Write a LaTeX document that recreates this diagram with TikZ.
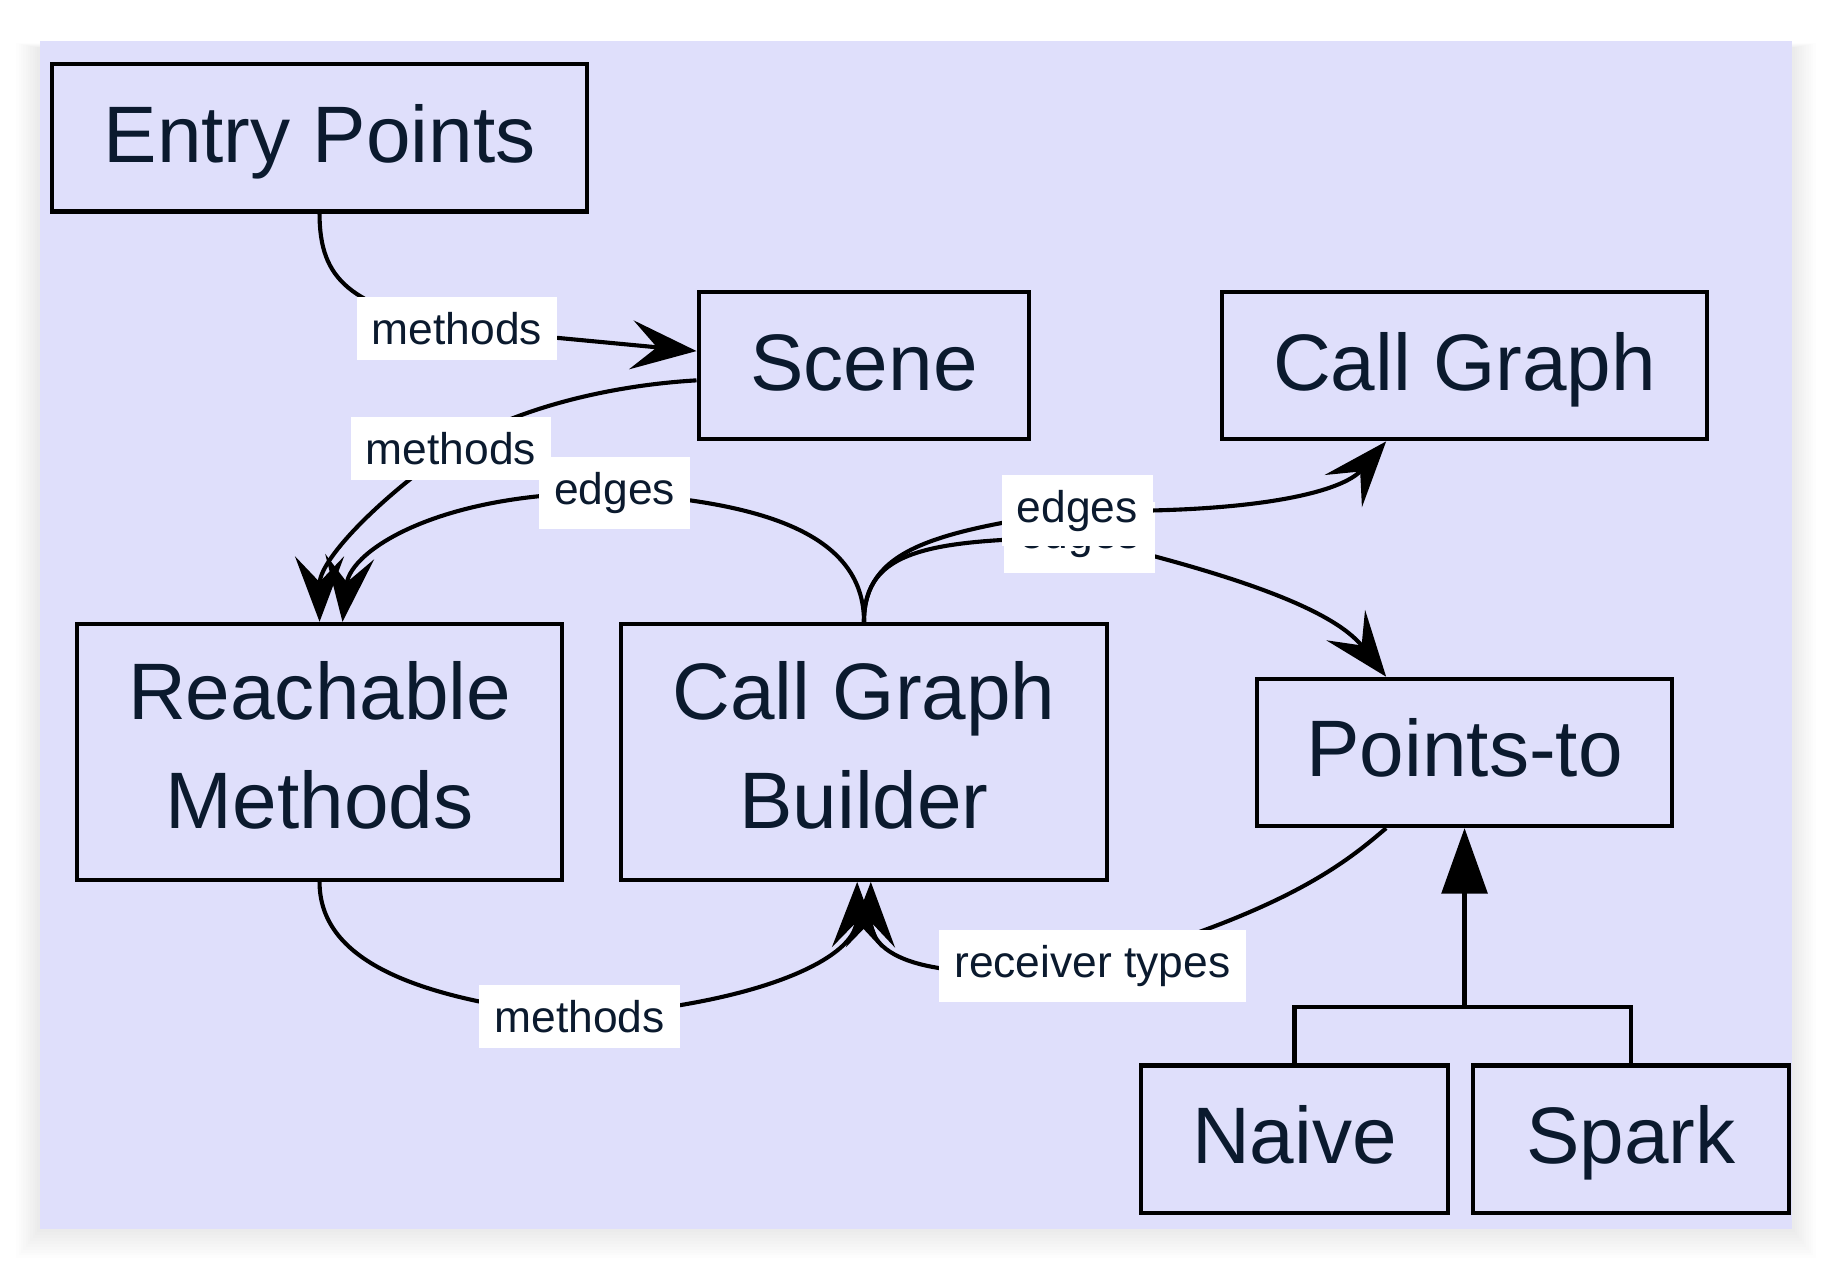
\documentclass[tikz,border=0pt]{standalone}
\usepackage{fontspec}
\setmainfont{Liberation Sans}
\usetikzlibrary{arrows.meta}
\definecolor{bgpanel}{RGB}{223,223,251}
\definecolor{ink}{HTML}{0B1A2E}

\begin{document}
\begin{tikzpicture}[x=0.01cm,y=-0.01cm,
  block/.style={draw=black,line width=1pt,inner sep=0pt,text=ink,align=center,
    font=\fontsize{19.5pt}{26.7pt}\selectfont},
  box/.style={block,minimum height=1.26cm,text height=14.3pt,text depth=2.4pt},
  tallbox/.style={block,minimum height=2.19cm,text depth=3.4pt},
  lbl/.style={fill=white,inner sep=0.13cm,text=ink,font=\fontsize{10.8pt}{13pt}\selectfont},
  flow/.style={line width=1pt,-{Stealth[length=5.6mm,width=4.2mm,inset=2.2mm]}},
  inherit/.style={line width=1pt,-{Triangle[length=5.6mm,width=3.9mm]}}]
  \fill[white] (0,0) rectangle (1568,1087);
  \foreach \s in {1,...,10}
    \fill[black,opacity=0.009] (34-2*\s,35-0.4*\s+6) rectangle (1534+2*\s,1052+2.5*\s);
  \fill[bgpanel] (34,35) rectangle (1534,1052);

  \node[box,minimum width=4.57cm] (entry) at (273.5,118) {Entry Points};
  \node[box,minimum width=2.83cm] (scene) at (739.5,313) {Scene};
  \node[box,minimum width=4.15cm] (callgraph) at (1253.5,313) {Call Graph};
  \node[tallbox,minimum width=4.15cm] (reach) at (273.5,643.5) {Reachable\\Methods};
  \node[tallbox,minimum width=4.15cm] (builder) at (739.5,643.5) {Call Graph\\Builder};
  \node[box,minimum width=3.55cm] (pointsto) at (1253.5,644) {Points-to};
  \node[box,minimum width=2.62cm] (naive) at (1108,975) {Naive};
  \node[box,minimum width=2.70cm] (spark) at (1396,975) {Spark};

  \draw[flow] (entry.south) .. controls (273.5,240) and (300,262) .. (391,281)
    node[lbl] (epmethods) {methods} -- (scene.175);
  \draw[flow] (scene.185) .. controls (520,330) and (440,350) .. (386,384)
    node[lbl] (scmethods) {methods} .. controls (320,430) and (273.5,480) .. (reach.north);
  \draw[flow] (builder.north) .. controls (739.5,460) and (660,430) .. (526,422)
    node[lbl] (rmedges) {edges} .. controls (380,420) and (300,470) .. (reach.80);
  \draw[flow] (builder.north) .. controls (739.5,470) and (795,462) .. (924,460)
    node[lbl] (ptedges) {edges} .. controls (1050,490) and (1140,520) .. (pointsto.136);
  \draw[flow] (builder.north) .. controls (739.5,470) and (800,455) .. (922,437)
    node[lbl] (cgedges) {edges} .. controls (1080,440) and (1150,420) .. (callgraph.224);
  \draw[flow] (reach.south) .. controls (273.5,820) and (350,855) .. (496,870)
    node[lbl] (rbmethods) {methods} .. controls (650,860) and (733,820) .. (builder.267);
  \draw[flow] (pointsto.224) .. controls (1150,740) and (1100,780) .. (935,827)
    node[lbl] (rtypes) {receiver types} .. controls (770,845) and (745,810) .. (builder.273);

  \coordinate (fork) at (1253.5,862);
  \draw[line width=1pt] (naive.north) |- (fork) -| (spark.north);
  \draw[inherit] (fork) -- (pointsto.south);
\end{tikzpicture}
\end{document}
